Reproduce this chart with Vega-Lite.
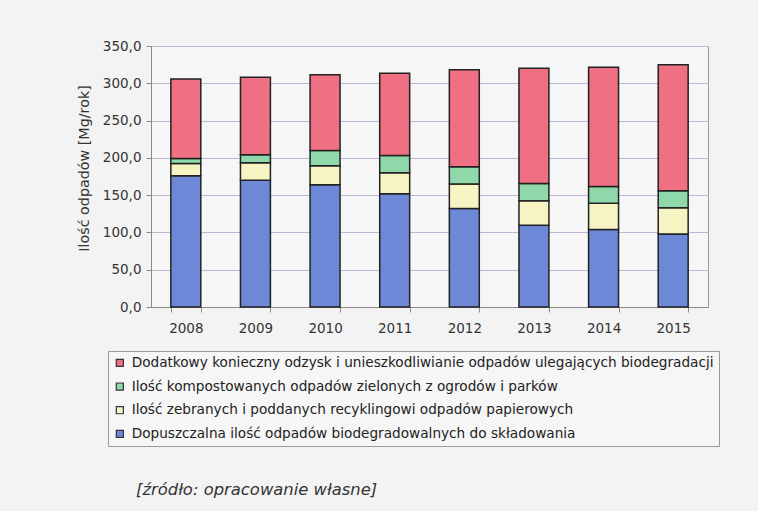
{
  "$schema": "https://vega.github.io/schema/vega-lite/v6.json",
  "width": 557,
  "height": 261,
  "autosize": {"type": "none"},
  "padding": {"left": 151, "top": 46, "right": 50, "bottom": 204},
  "background": "#f3f3f3",
  "config": {
    "font": "DejaVu Sans",
    "view": {"stroke": "#9a9a9a", "strokeWidth": 1, "fill": "#f6f6f6"}
  },
  "title": {
    "text": "[źródło: opracowanie własne]",
    "orient": "bottom",
    "anchor": "start",
    "frame": "bounds",
    "dx": 59,
    "offset": 35,
    "font": "DejaVu Sans",
    "fontStyle": "italic",
    "fontWeight": "normal",
    "fontSize": 16.4,
    "color": "#333333"
  },
  "data": {
    "values": [
      {"rok": "2008", "seria": "Dopuszczalna ilość odpadów biodegradowalnych do składowania", "k": 1, "wartosc": 176.0},
      {"rok": "2008", "seria": "Ilość zebranych i poddanych recyklingowi odpadów papierowych", "k": 2, "wartosc": 16.5},
      {"rok": "2008", "seria": "Ilość kompostowanych odpadów zielonych z ogrodów i parków", "k": 3, "wartosc": 6.7},
      {"rok": "2008", "seria": "Dodatkowy konieczny odzysk i unieszkodliwianie odpadów ulegających biodegradacji", "k": 4, "wartosc": 106.5},
      {"rok": "2009", "seria": "Dopuszczalna ilość odpadów biodegradowalnych do składowania", "k": 1, "wartosc": 170.0},
      {"rok": "2009", "seria": "Ilość zebranych i poddanych recyklingowi odpadów papierowych", "k": 2, "wartosc": 23.3},
      {"rok": "2009", "seria": "Ilość kompostowanych odpadów zielonych z ogrodów i parków", "k": 3, "wartosc": 10.7},
      {"rok": "2009", "seria": "Dodatkowy konieczny odzysk i unieszkodliwianie odpadów ulegających biodegradacji", "k": 4, "wartosc": 104.0},
      {"rok": "2010", "seria": "Dopuszczalna ilość odpadów biodegradowalnych do składowania", "k": 1, "wartosc": 164.0},
      {"rok": "2010", "seria": "Ilość zebranych i poddanych recyklingowi odpadów papierowych", "k": 2, "wartosc": 25.5},
      {"rok": "2010", "seria": "Ilość kompostowanych odpadów zielonych z ogrodów i parków", "k": 3, "wartosc": 20.5},
      {"rok": "2010", "seria": "Dodatkowy konieczny odzysk i unieszkodliwianie odpadów ulegających biodegradacji", "k": 4, "wartosc": 101.5},
      {"rok": "2011", "seria": "Dopuszczalna ilość odpadów biodegradowalnych do składowania", "k": 1, "wartosc": 152.0},
      {"rok": "2011", "seria": "Ilość zebranych i poddanych recyklingowi odpadów papierowych", "k": 2, "wartosc": 28.0},
      {"rok": "2011", "seria": "Ilość kompostowanych odpadów zielonych z ogrodów i parków", "k": 3, "wartosc": 23.0},
      {"rok": "2011", "seria": "Dodatkowy konieczny odzysk i unieszkodliwianie odpadów ulegających biodegradacji", "k": 4, "wartosc": 110.5},
      {"rok": "2012", "seria": "Dopuszczalna ilość odpadów biodegradowalnych do składowania", "k": 1, "wartosc": 132.0},
      {"rok": "2012", "seria": "Ilość zebranych i poddanych recyklingowi odpadów papierowych", "k": 2, "wartosc": 33.0},
      {"rok": "2012", "seria": "Ilość kompostowanych odpadów zielonych z ogrodów i parków", "k": 3, "wartosc": 23.0},
      {"rok": "2012", "seria": "Dodatkowy konieczny odzysk i unieszkodliwianie odpadów ulegających biodegradacji", "k": 4, "wartosc": 130.0},
      {"rok": "2013", "seria": "Dopuszczalna ilość odpadów biodegradowalnych do składowania", "k": 1, "wartosc": 109.5},
      {"rok": "2013", "seria": "Ilość zebranych i poddanych recyklingowi odpadów papierowych", "k": 2, "wartosc": 33.0},
      {"rok": "2013", "seria": "Ilość kompostowanych odpadów zielonych z ogrodów i parków", "k": 3, "wartosc": 23.0},
      {"rok": "2013", "seria": "Dodatkowy konieczny odzysk i unieszkodliwianie odpadów ulegających biodegradacji", "k": 4, "wartosc": 154.5},
      {"rok": "2014", "seria": "Dopuszczalna ilość odpadów biodegradowalnych do składowania", "k": 1, "wartosc": 104.0},
      {"rok": "2014", "seria": "Ilość zebranych i poddanych recyklingowi odpadów papierowych", "k": 2, "wartosc": 35.0},
      {"rok": "2014", "seria": "Ilość kompostowanych odpadów zielonych z ogrodów i parków", "k": 3, "wartosc": 22.5},
      {"rok": "2014", "seria": "Dodatkowy konieczny odzysk i unieszkodliwianie odpadów ulegających biodegradacji", "k": 4, "wartosc": 160.0},
      {"rok": "2015", "seria": "Dopuszczalna ilość odpadów biodegradowalnych do składowania", "k": 1, "wartosc": 98.0},
      {"rok": "2015", "seria": "Ilość zebranych i poddanych recyklingowi odpadów papierowych", "k": 2, "wartosc": 35.0},
      {"rok": "2015", "seria": "Ilość kompostowanych odpadów zielonych z ogrodów i parków", "k": 3, "wartosc": 23.0},
      {"rok": "2015", "seria": "Dodatkowy konieczny odzysk i unieszkodliwianie odpadów ulegających biodegradacji", "k": 4, "wartosc": 169.0}
    ]
  },
  "mark": {"type": "bar", "stroke": "#222222", "strokeWidth": 1.5},
  "encoding": {
    "x": {
      "field": "rok",
      "type": "ordinal",
      "scale": {"paddingInner": 0.57, "paddingOuter": 0.285},
      "axis": {
        "title": null,
        "labelAngle": 0,
        "labelFontSize": 13.5,
        "labelColor": "#333333",
        "labelPadding": 9,
        "tickBand": "extent",
        "tickSize": 5,
        "tickColor": "#8a8a8a",
        "domainColor": "#8a8a8a"
      }
    },
    "y": {
      "field": "wartosc",
      "type": "quantitative",
      "stack": "zero",
      "scale": {"domain": [0, 350], "nice": false},
      "axis": {
        "title": "Ilość odpadów [Mg/rok]",
        "titleFontSize": 14.3,
        "titleFontWeight": "normal",
        "titleColor": "#333333",
        "titleAngle": -90,
        "titleX": -67,
        "titleY": 122,
        "titleAlign": "center",
        "titleBaseline": "middle",
        "values": [0, 50, 100, 150, 200, 250, 300, 350],
        "labelExpr": "replace(format(datum.value, '.1f'), '.', ',')",
        "labelFontSize": 13.5,
        "labelColor": "#333333",
        "labelPadding": 5,
        "tickSize": 5,
        "tickColor": "#8a8a8a",
        "domainColor": "#8a8a8a",
        "grid": true,
        "gridColor": "#bdb6d6",
        "gridWidth": 1
      }
    },
    "color": {
      "field": "seria",
      "type": "nominal",
      "scale": {
        "domain": [
          "Dodatkowy konieczny odzysk i unieszkodliwianie odpadów ulegających biodegradacji",
          "Ilość kompostowanych odpadów zielonych z ogrodów i parków",
          "Ilość zebranych i poddanych recyklingowi odpadów papierowych",
          "Dopuszczalna ilość odpadów biodegradowalnych do składowania"
        ],
        "range": ["#ee7082", "#8fd8aa", "#f7f4c4", "#6d88d6"]
      },
      "legend": {
        "title": null,
        "orient": "none",
        "legendX": -43,
        "legendY": 305,
        "direction": "vertical",
        "symbolType": "square",
        "symbolSize": 50,
        "symbolStrokeColor": "#333333",
        "symbolStrokeWidth": 1.2,
        "labelFontSize": 13.65,
        "labelColor": "#222222",
        "labelLimit": 700,
        "labelOffset": 5,
        "rowPadding": 8.7,
        "padding": 5,
        "strokeColor": "#9a9a9a",
        "fillColor": "#f6f6f6"
      }
    },
    "order": {"field": "k", "type": "quantitative", "sort": "ascending"}
  }
}
